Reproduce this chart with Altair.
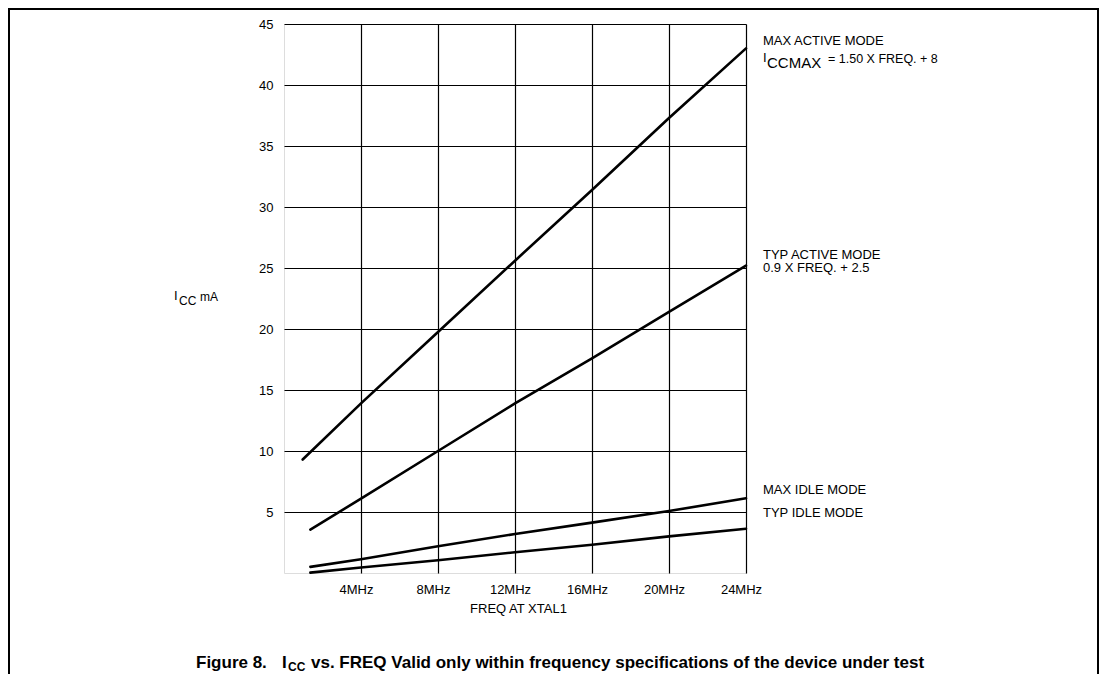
import altair as alt
import pandas as pd

# ---- data ----
series_names = ["MAX ACTIVE MODE", "TYP ACTIVE MODE", "MAX IDLE MODE", "TYP IDLE MODE"]
freq_max_active = [0.97, 4, 8, 12, 16, 20, 24]
icc_max_active = [9.3, 13.9, 19.75, 25.6, 31.4, 37.3, 43.0]
freq_typ_active = [1.37, 4, 8, 12, 16, 20, 24]
icc_typ_active = [3.55, 6.1, 10.0, 13.9, 17.6, 21.4, 25.2]
freq_max_idle = [1.37, 4, 8, 12, 16, 20, 24]
icc_max_idle = [0.5, 1.12, 2.19, 3.2, 4.13, 5.08, 6.12]
freq_typ_idle = [1.37, 4, 8, 12, 16, 20, 24]
icc_typ_idle = [0.03, 0.45, 1.04, 1.7, 2.32, 3.0, 3.63]

x_ticks = [4, 8, 12, 16, 20, 24]
y_ticks = [5, 10, 15, 20, 25, 30, 35, 40, 45]

label_texts = ["MAX ACTIVE MODE", "TYP ACTIVE MODE", "0.9  X FREQ. +  2.5", "MAX IDLE MODE", "TYP IDLE MODE"]
label_y = [43.57, 26.1, 24.96, 6.8, 4.88]
formula_parts = ["I", "CCMAX", "= 1.50  X FREQ. +  8"]
x_title = "FREQ AT XTAL1"
y_title_parts = ["I", "CC", "mA"]
caption_parts = ["Figure 8.", "I", "CC", "vs. FREQ Valid only within frequency specifications of the device under test"]

# ---- build tables ----
rows = []
for name, fx, fy in zip(series_names,
                        [freq_max_active, freq_typ_active, freq_max_idle, freq_typ_idle],
                        [icc_max_active, icc_typ_active, icc_max_idle, icc_typ_idle]):
    for i, (a, b) in enumerate(zip(fx, fy)):
        rows.append({"series": name, "freq": a, "icc": b, "order": i})
df = pd.DataFrame(rows)

FONT = "Liberation Sans"
W, H = 462, 549

xscale = alt.Scale(domain=[0, 24], nice=False, zero=False)
yscale = alt.Scale(domain=[0, 45], nice=False)

lines = alt.Chart(df).mark_line(color="black", strokeWidth=2.6, strokeCap="round").encode(
    x=alt.X("freq:Q", scale=xscale,
            axis=alt.Axis(values=x_ticks, labelExpr="datum.value + 'MHz'", grid=True,
                          gridColor="black", gridWidth=1.2, gridOpacity=1, ticks=False,
                          domain=False, labelPadding=10, labelFontSize=13, labelColor="black",
                          labelFont=FONT, labelOffset=-5, labelFlush=False, title=x_title,
                          titleX=234, titleY=35,
                          titleFont=FONT, titleFontSize=13, titleFontWeight="normal",
                          titleColor="black", titleAlign="center", titleBaseline="middle")),
    y=alt.Y("icc:Q", scale=yscale,
            axis=alt.Axis(values=y_ticks, grid=True, gridColor="black", gridWidth=1.2,
                          gridOpacity=1, ticks=False, domain=False, labelPadding=11,
                          labelFontSize=13, labelColor="black", labelFont=FONT, title=None)),
    detail="series:N",
    order="order:Q",
)

lab_df = pd.DataFrame({"text": label_texts, "y": label_y, "x": [24] * len(label_texts)})
labels = alt.Chart(lab_df).mark_text(align="left", baseline="middle", dx=17, fontSize=13,
                                     font=FONT, color="black").encode(
    x=alt.X("x:Q", scale=xscale), y=alt.Y("y:Q", scale=yscale), text="text:N")

f_df = pd.DataFrame({"x": [24], "y": [42.2]})

def flabel(text, dx, dy, size):
    return alt.Chart(f_df).mark_text(align="left", baseline="middle", dx=dx, dy=dy, fontSize=size,
                                     font=FONT, color="black", text=text).encode(
        x=alt.X("x:Q", scale=xscale), y=alt.Y("y:Q", scale=yscale))

formula = flabel(formula_parts[0], 17, 0, 13) + flabel(formula_parts[1], 21, 5, 15) + flabel(formula_parts[2], 82, 1, 12.5)

one = pd.DataFrame({"a": [0]})

def ann(text, x, y, size=12, weight="normal"):
    return alt.Chart(one).mark_text(align="left", baseline="middle", fontSize=size, font=FONT,
                                    fontWeight=weight, color="black", text=text).encode(
        x=alt.value(x), y=alt.value(y))

ytitle = ann(y_title_parts[0], -110, 272, 13) + ann(y_title_parts[1], -105, 277, 12) + ann(y_title_parts[2], -84, 273, 12)
caption = (ann(caption_parts[0], -88, 639, 17, "bold") + ann(caption_parts[1], -2, 639, 17, "bold")
           + ann(caption_parts[2], 4, 643, 12, "bold") + ann(caption_parts[3], 27, 639, 17, "bold"))

frame = alt.Chart(one).mark_rect(filled=False, stroke="black", strokeWidth=2).encode(
    x=alt.value(-275), x2=alt.value(814), y=alt.value(-15), y2=alt.value(700))

chart = alt.layer(frame, lines, labels, formula, ytitle, caption).properties(
    width=W, height=H,
    autosize=alt.AutoSizeParams(type="none"),
    padding={"left": 276, "top": 16, "right": 353, "bottom": 101},
).configure_view(stroke="black", strokeWidth=1.5).configure(font=FONT, background="white")

chart.save("out.html", embed_options={"renderer": "svg", "actions": False})
